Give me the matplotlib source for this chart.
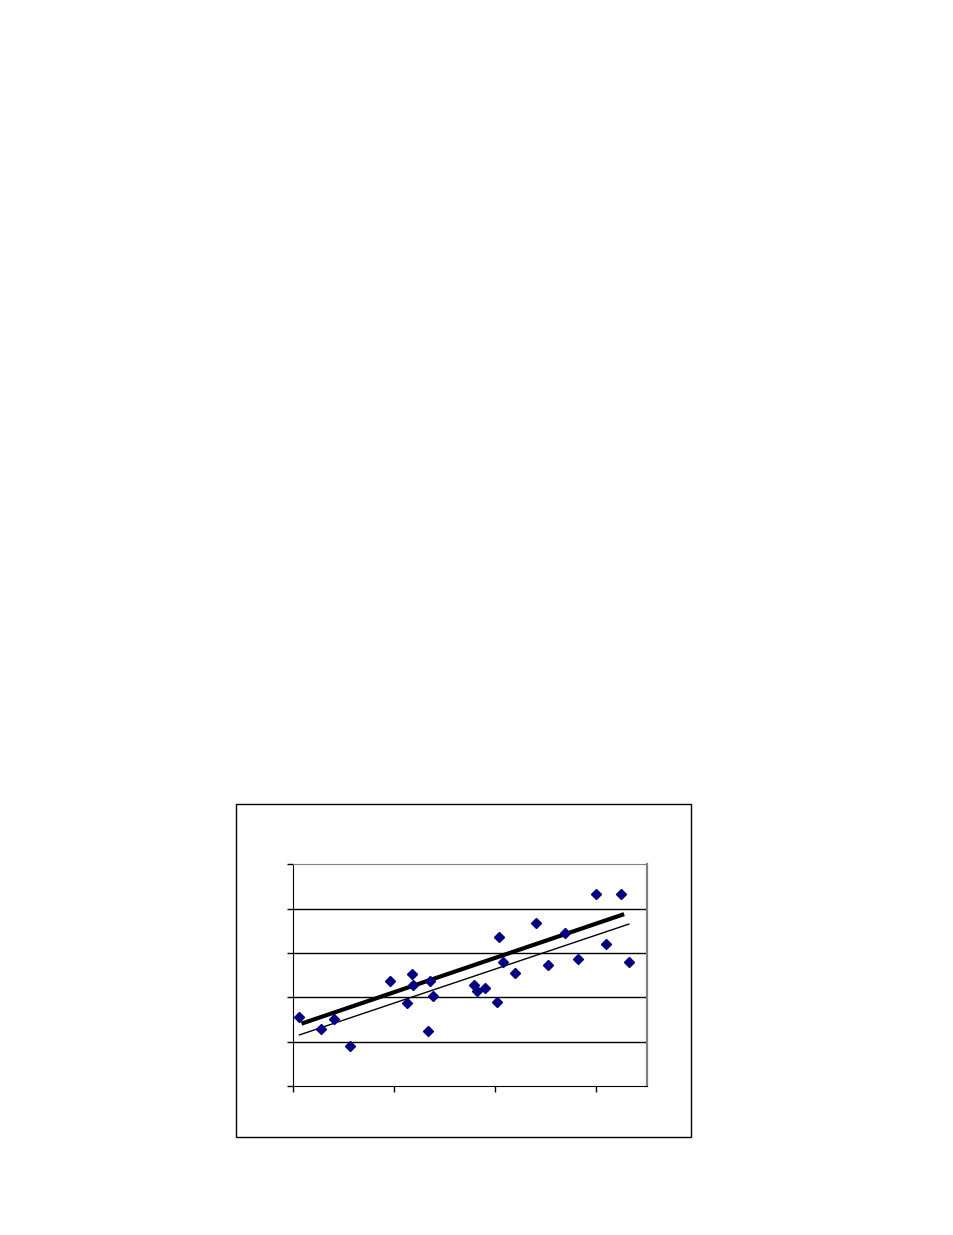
import matplotlib.pyplot as plt
from matplotlib.patches import Rectangle

# Scatter values (axis units, no labels shown)
x_pts = [0.06, 0.27, 0.40, 0.56, 0.96, 1.12, 1.175, 1.18, 1.33, 1.35, 1.38,
         1.785, 1.82, 1.90, 2.02, 2.04, 2.076, 2.19, 2.40, 2.525, 2.686,
         2.815, 3.00, 3.09, 3.244, 3.317]
y_pts = [1.55, 1.29, 1.51, 0.91, 2.37, 1.87, 2.52, 2.28, 1.24, 2.36, 2.02,
         2.28, 2.13, 2.21, 1.89, 3.36, 2.79, 2.55, 3.68, 2.73, 3.44,
         2.86, 4.34, 3.21, 4.34, 2.79]

# the two fitted lines (end points)
thick_x = [0.10, 3.254]
thick_y = [1.42, 3.86]
thin_x = [0.06, 3.32]
thin_y = [1.15, 3.65]

fig = plt.figure(figsize=(9.54, 12.35), dpi=100)

# outer chart frame
fig.patches.append(Rectangle((0.2474, 0.0794), 0.4769, 0.2696,
                             transform=fig.transFigure, fill=False,
                             edgecolor='black', linewidth=1))

ax = fig.add_axes([0.3075, 0.1207, 0.3707, 0.1795])
ax.set_xlim(0, 3.5)
ax.set_ylim(0, 5)
ax.set_xticks([0, 1, 2, 3])
ax.set_yticks([0, 1, 2, 3, 4, 5])
ax.set_xticklabels([])
ax.set_yticklabels([])
ax.tick_params(direction='out', length=4, width=1, color='black')

for g in [1, 2, 3, 4]:
    ax.axhline(g, color='black', linewidth=1, zorder=1)

ax.spines['left'].set_color('black')
ax.spines['bottom'].set_color('black')
ax.spines['top'].set_color('#808080')
ax.spines['right'].set_color('#808080')
ax.spines['right'].set_linewidth(1.6)

ax.plot(thick_x, thick_y, color='black', linewidth=3, zorder=2)
ax.plot(thin_x, thin_y, color='black', linewidth=1, zorder=2)
ax.plot(x_pts, y_pts, linestyle='none', marker='D', markersize=5,
        color='#000080', zorder=3)

plt.savefig('out.png', dpi=100)
plt.close()
